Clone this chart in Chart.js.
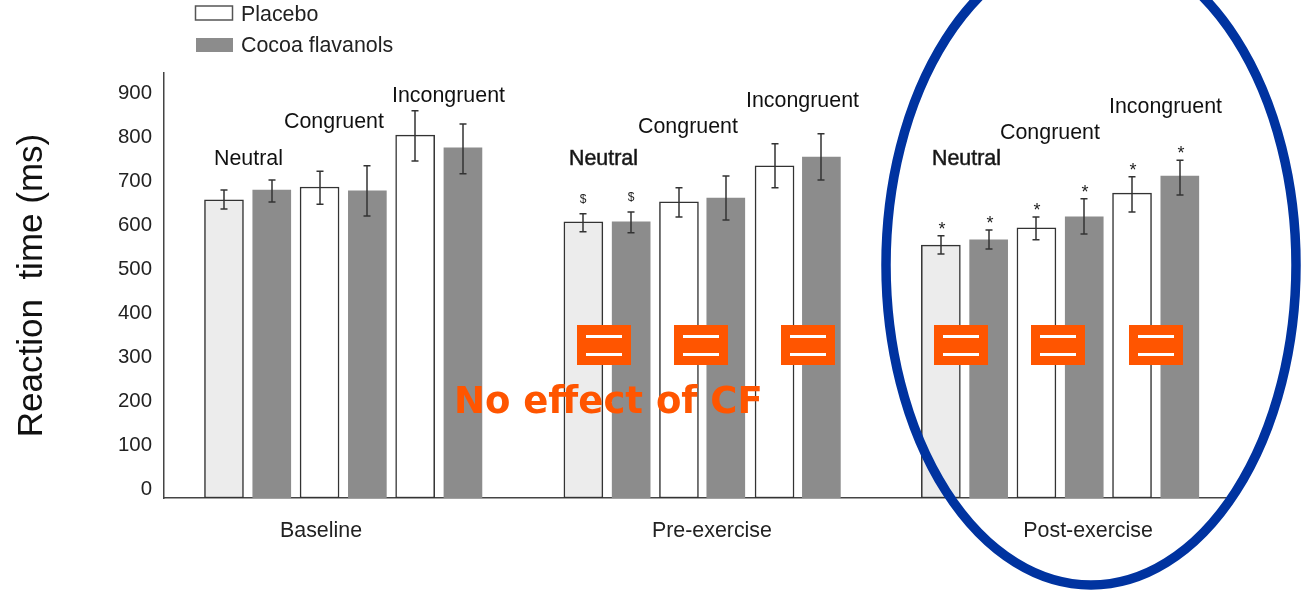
<!DOCTYPE html>
<html>
<head>
<meta charset="utf-8">
<title>Reaction time</title>
<script src="https://cdn.jsdelivr.net/npm/chart.js@4"></script>
<style>
  html, body { margin: 0; padding: 0; background: #fff; overflow: hidden; }
  canvas { display: block; }
</style>
</head>
<body>
<canvas id="myChart" width="1301" height="591"></canvas>
<script>
// bars run Neutral, Congruent, Incongruent inside Baseline, Pre-exercise, Post-exercise
const groups = ['Baseline', 'Pre-exercise', 'Post-exercise'];
const groupTicks = [2.03, 10.21, 18.08];
const yTicks = [0, 100, 200, 300, 400, 500, 600, 700, 800, 900];

const placeboSlots = [0, 2, 4, 7.52, 9.52, 11.52, 15, 17, 19];
const cocoaSlots = [1, 3, 5, 8.52, 10.5, 12.5, 16, 18, 20];

const placeboValues = [655, 684, 802, 605, 650, 732, 552, 591, 670];
const placeboHigh = [677, 720, 857, 623, 682, 782, 573, 616, 707];
const placeboLow = [634, 645, 743, 582, 616, 682, 532, 564, 627];
const placeboMarks = ['', '', '', '$', '', '', '*', '*', '*'];

const cocoaValues = [677, 675, 773, 605, 659, 752, 564, 616, 709];
const cocoaHigh = [700, 732, 827, 627, 709, 805, 586, 657, 745];
const cocoaLow = [650, 618, 714, 580, 609, 700, 543, 577, 666];
const cocoaMarks = ['', '', '', '$', '', '', '*', '*', '*'];

const font = '"Liberation Sans", Arial, sans-serif';
const orange = '#ff5500';
const axisBottom = -22.7;

function toPoints(slots, values) {
    return slots.map(function (el, i) {
        return { x: el, y: values[i] };
    });
}

// whiskers and the small marks above them
const errorBars = {
    id: 'errorBars',
    afterDatasetsDraw: function (chart) {
        const ctx = chart.ctx;
        const x = chart.scales.x;
        const y = chart.scales.y;
        const sets = [
            [placeboSlots, placeboHigh, placeboLow, placeboMarks],
            [cocoaSlots, cocoaHigh, cocoaLow, cocoaMarks]
        ];
        ctx.save();
        ctx.strokeStyle = '#333';
        ctx.lineWidth = 1.5;
        ctx.fillStyle = '#222';
        ctx.textAlign = 'center';
        sets.forEach(function (set) {
            set[0].forEach(function (slot, i) {
                const px = Math.round(x.getPixelForValue(slot));
                const top = y.getPixelForValue(set[1][i]);
                const low = y.getPixelForValue(set[2][i]);
                ctx.beginPath();
                ctx.moveTo(px, top);
                ctx.lineTo(px, low);
                ctx.moveTo(px - 3.5, top);
                ctx.lineTo(px + 3.5, top);
                ctx.moveTo(px - 3.5, low);
                ctx.lineTo(px + 3.5, low);
                ctx.stroke();
                if (set[3][i] === '*') {
                    ctx.font = '18px ' + font;
                    ctx.fillText('*', px + 1, top - 1);
                } else if (set[3][i] === '$') {
                    ctx.font = '12px ' + font;
                    ctx.fillText('$', px, top - 11);
                }
            });
        });
        ctx.restore();
    }
};

// legend is stacked by hand, the built-in one wants a row here
const stackedLegend = {
    id: 'stackedLegend',
    afterDraw: function (chart) {
        const ctx = chart.ctx;
        ctx.save();
        ctx.font = '21.4px ' + font;
        ctx.textAlign = 'left';
        ctx.fillStyle = '#222';
        ctx.strokeStyle = '#555';
        ctx.lineWidth = 1.5;
        ctx.strokeRect(195.5, 6, 37, 14);
        ctx.fillText(chart.data.datasets[0].label, 241, 21);
        ctx.fillStyle = '#8c8c8c';
        ctx.fillRect(196, 38, 37, 14);
        ctx.fillStyle = '#222';
        ctx.fillText(chart.data.datasets[1].label, 241, 52);
        ctx.restore();
    }
};

// slide annotations laid over the figure
const annotations = {
    id: 'annotations',
    afterDraw: function (chart) {
        const ctx = chart.ctx;
        ctx.save();

        ctx.font = '21.4px ' + font;
        ctx.textAlign = 'left';
        ctx.fillStyle = '#111';
        [
            ['Neutral', 214, 165], ['Congruent', 284, 128], ['Incongruent', 392, 102],
            ['Congruent', 638, 133], ['Incongruent', 746, 107],
            ['Congruent', 1000, 139], ['Incongruent', 1109, 113]
        ].forEach(function (el) {
            ctx.fillText(el[0], el[1], el[2]);
        });
        ctx.strokeStyle = '#333';
        ctx.lineWidth = 0.6;
        [['Neutral', 569, 165], ['Neutral', 932, 165]].forEach(function (el) {
            ctx.fillText(el[0], el[1], el[2]);
            ctx.strokeText(el[0], el[1], el[2]);
        });

        [577, 674, 781, 934, 1031, 1129].forEach(function (left) {
            ctx.fillStyle = orange;
            ctx.fillRect(left, 325, 54, 40);
            ctx.fillStyle = '#fff';
            ctx.fillRect(left + 9, 335, 36, 3);
            ctx.fillRect(left + 9, 353, 36, 3);
        });

        ctx.fillStyle = orange;
        ctx.font = 'bold 37px "DejaVu Sans", sans-serif';
        ctx.fillText('No effect of CF', 454, 413);

        ctx.strokeStyle = '#0033a0';
        ctx.lineWidth = 9.5;
        ctx.beginPath();
        ctx.ellipse(1091, 265, 205, 320, 0, 0, Math.PI * 2);
        ctx.stroke();

        ctx.restore();
    }
};

const ctx = document.getElementById('myChart').getContext('2d');
const myChart = new Chart(ctx, {
    type: 'bar',
    data: {
        datasets: [{
            label: 'Placebo',
            data: toPoints(placeboSlots, placeboValues),
            backgroundColor: ['#ececec', '#fff', '#fff', '#ececec', '#fff', '#fff', '#ececec', '#fff', '#fff'],
            borderColor: '#333',
            borderWidth: 1.5,
            borderSkipped: false,
            base: axisBottom,
            barThickness: 39
        }, {
            label: 'Cocoa flavanols',
            data: toPoints(cocoaSlots, cocoaValues),
            backgroundColor: '#8c8c8c',
            borderWidth: 0,
            base: axisBottom,
            barThickness: 38
        }]
    },
    options: {
        responsive: false,
        animation: false,
        grouped: false,
        layout: {
            padding: { top: 73, right: 71, bottom: 0, left: 0 }
        },
        scales: {
            x: {
                type: 'linear',
                offset: false,
                min: -1.255,
                max: 21.05,
                grid: { display: false, drawTicks: false, offset: false },
                border: { color: '#444', width: 1.5 },
                afterBuildTicks: function (scale) {
                    scale.ticks = groupTicks.map(function (el) {
                        return { value: el };
                    });
                },
                afterFit: function (scale) {
                    scale.height = 93;
                },
                ticks: {
                    autoSkip: false,
                    maxRotation: 0,
                    padding: 20,
                    color: '#222',
                    font: { family: font, size: 21.4 },
                    callback: function (value, index) {
                        return groups[index];
                    }
                }
            },
            y: {
                type: 'linear',
                min: axisBottom,
                max: 943,
                grid: { display: false, drawTicks: false },
                border: { color: '#444', width: 1.5 },
                afterBuildTicks: function (scale) {
                    scale.ticks = yTicks.map(function (el) {
                        return { value: el };
                    });
                },
                afterFit: function (scale) {
                    scale.width = 164;
                },
                ticks: {
                    padding: 12,
                    labelOffset: 1,
                    color: '#222',
                    font: { family: font, size: 20.4 }
                },
                title: {
                    display: true,
                    text: 'Reaction  time (ms)',
                    color: '#111',
                    font: { family: font, size: 35 },
                    padding: { top: 11, bottom: 0 }
                }
            }
        },
        plugins: {
            legend: { display: false },
            tooltip: { enabled: false }
        }
    },
    plugins: [errorBars, stackedLegend, annotations]
});
</script>
</body>
</html>
